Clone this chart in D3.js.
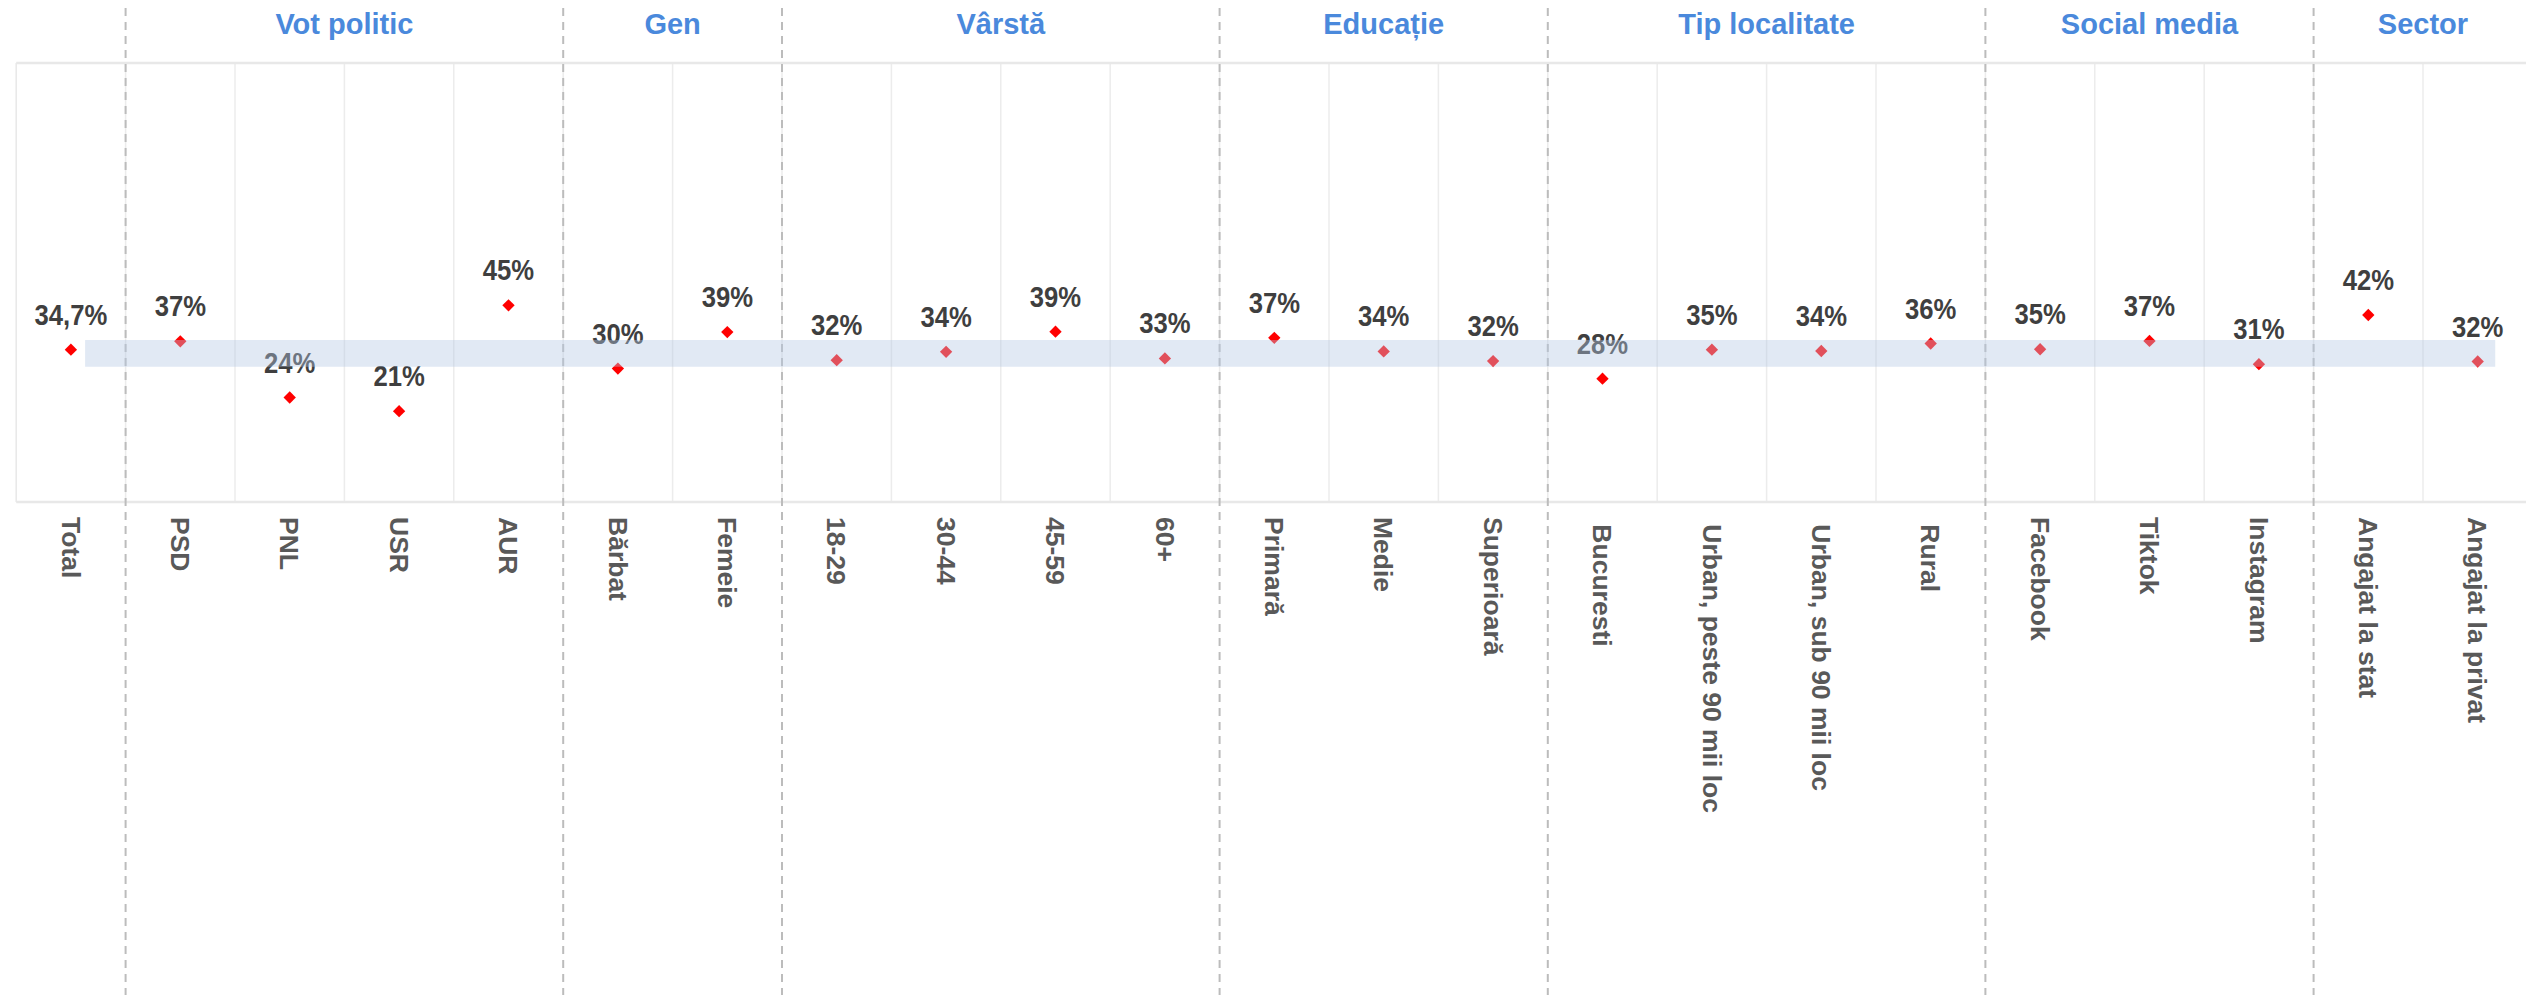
<!DOCTYPE html>
<html>
<head>
<meta charset="utf-8">
<script src="https://cdn.jsdelivr.net/npm/d3@7"></script>
<style>
  html, body { margin: 0; padding: 0; background: #ffffff; }
  svg { display: block; }
  text { font-family: "Liberation Sans", Arial, sans-serif; font-weight: bold; }
</style>
</head>
<body>
<svg id="chart" width="2526" height="995"></svg>
<script>
// ---- data ----
const categories = [
  "Total", "PSD", "PNL", "USR", "AUR", "Bărbat", "Femeie",
  "18-29", "30-44", "45-59", "60+",
  "Primară", "Medie", "Superioară",
  " Bucuresti", " Urban, peste 90 mii loc", " Urban, sub 90 mii loc", " Rural",
  "Facebook", "Tiktok", "Instagram",
  "Angajat la stat", "Angajat la privat"
];
const values = [
  34.7, 36.6, 23.8, 20.7, 44.8, 30.4, 38.7,
  32.3, 34.2, 38.8, 32.7,
  37.4, 34.3, 32.1,
  28.1, 34.7, 34.4, 36.1,
  34.8, 36.7, 31.4,
  42.6, 32.0
];
const valueLabels = [
  "34,7%", "37%", "24%", "21%", "45%", "30%", "39%",
  "32%", "34%", "39%", "33%",
  "37%", "34%", "32%",
  "28%", "35%", "34%", "36%",
  "35%", "37%", "31%",
  "42%", "32%"
];
const groupNames = ["Vot politic", "Gen", "Vârstă", "Educație", "Tip localitate", "Social media", "Sector"];
const groupFirst = ["PSD", "Bărbat", "18-29", "Primară", " Bucuresti", "Facebook", "Angajat la stat"];
const groupLast  = ["AUR", "Femeie", "60+", "Superioară", " Rural", "Instagram", "Angajat la privat"];
const bandRange = [30.8, 36.9];   // shaded reference band (%)
const yDomain = [0, 100];

// ---- layout ----
const W = 2526, H = 995;
const plotLeft = 16.2, plotTop = 63, plotBottom = 502;
const step = 109.4;
const svg = d3.select("#chart");

const x = d3.scaleBand()
  .domain(categories)
  .range([plotLeft, plotLeft + step * categories.length])
  .padding(0);
const y = d3.scaleLinear().domain(yDomain).range([plotBottom, plotTop]);
const cx = c => x(c) + x.bandwidth() / 2;

const data = categories.map((c, i) => ({ c, v: values[i], label: valueLabels[i] }));

// vertical gridlines at column boundaries
svg.append("g").selectAll("line")
  .data(categories.slice(1))
  .join("line")
  .attr("x1", d => x(d)).attr("x2", d => x(d))
  .attr("y1", plotTop).attr("y2", plotBottom)
  .attr("stroke", "#ececec").attr("stroke-width", 1.5);

// frame
const frame = svg.append("g").attr("stroke", "#e8e8e8").attr("stroke-width", 2.5);
frame.append("line").attr("x1", plotLeft).attr("x2", W).attr("y1", y(yDomain[1])).attr("y2", y(yDomain[1]));
frame.append("line").attr("x1", plotLeft).attr("x2", W).attr("y1", y(yDomain[0])).attr("y2", y(yDomain[0]));
frame.append("line").attr("x1", plotLeft).attr("x2", plotLeft).attr("y1", y(yDomain[1])).attr("y2", y(yDomain[0]))
  .attr("stroke-width", 1.5);

// dashed group separators
svg.append("g").selectAll("line")
  .data(groupFirst)
  .join("line")
  .attr("x1", d => x(d)).attr("x2", d => x(d))
  .attr("y1", 8).attr("y2", H)
  .attr("stroke", "#bcbcbc").attr("stroke-width", 2)
  .attr("stroke-dasharray", "8,6");

// group headers
svg.append("g").selectAll("text")
  .data(groupNames.map((g, i) => ({ g, a: groupFirst[i], b: groupLast[i] })))
  .join("text")
  .attr("x", d => (x(d.a) + x(d.b) + x.bandwidth()) / 2)
  .attr("y", 34)
  .attr("text-anchor", "middle")
  .attr("font-size", 29)
  .attr("fill", "#4a89dc")
  .text(d => d.g);

// diamonds
svg.append("g").selectAll("path")
  .data(data)
  .join("path")
  .attr("d", d3.symbol(d3.symbolSquare, 76))
  .attr("transform", d => `translate(${cx(d.c)},${y(d.v)}) rotate(45)`)
  .attr("fill", "#ff0000");

// value labels (slightly condensed, as in the original)
svg.append("g").selectAll("text")
  .data(data)
  .join("text")
  .attr("transform", d => `translate(${cx(d.c)},${y(d.v) - 25}) scale(0.885,1)`)
  .attr("text-anchor", "middle")
  .attr("font-size", 29)
  .attr("fill", "#3f3f3f")
  .text(d => d.label);

// shaded band drawn on top (semi-transparent)
svg.append("rect")
  .attr("x", cx(categories[0]) + step * 0.13)
  .attr("width", cx(categories[categories.length - 1]) + step * 0.16 - (cx(categories[0]) + step * 0.13))
  .attr("y", y(bandRange[1]))
  .attr("height", y(bandRange[0]) - y(bandRange[1]))
  .attr("fill", "rgb(180,200,228)")
  .attr("fill-opacity", 0.4);

// category axis labels (rotated, reading top to bottom)
svg.append("g").selectAll("text")
  .data(categories)
  .join("text")
  .attr("transform", d => `translate(${cx(d)},517) rotate(90)`)
  .attr("dy", "0.35em")
  .attr("text-anchor", "start")
  .attr("font-size", 26.5)
  .attr("fill", "#595959")
  .style("white-space", "pre")
  .text(d => d);
</script>
</body>
</html>
